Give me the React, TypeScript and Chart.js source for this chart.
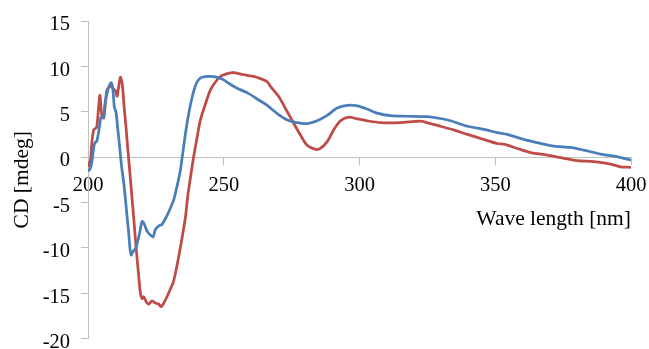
import { useEffect, useRef } from "react";
import { Chart, registerables } from "chart.js";

Chart.register(...registerables);

// Wavelength (nm) and CD (mdeg) — blue series
const blueNm = [
  200, 200.9, 201.5, 202.4, 203.3, 204.2, 204.8, 205.7, 206.3, 207.0, 207.6, 208.6, 209.2, 209.7,
  210.3, 210.9, 211.6, 212.4, 213.2, 213.8, 214.4, 215.0, 215.4, 215.9, 216.6, 217.5, 218.3, 219.0,
  219.9, 220.6, 221.8, 223.0, 224.0, 224.8, 226.0, 227.3, 228.5, 230.1, 231.6, 232.8, 234.0, 234.7,
  235.9, 237.1, 238.4, 239.6, 240.8, 242.0, 244.5, 246.9, 249.4, 252.5, 255.5, 258.6, 262.3, 266.0,
  269.7, 273.4, 277.0, 280.7, 284.4, 288.1, 291.8, 295.5, 299.2, 302.8, 306.5, 311.4, 317.6, 324.9,
  329.8, 333.5, 339.7, 345.8, 350.7, 354.4, 360.5, 366.7, 371.6, 377.7, 382.6, 388.8, 395.0, 400,
];
const blueCd = [
  -1.6, -1.2, -0.4, 1.5, 1.8, 3.3, 4.4, 4.4, 6.0, 7.0, 7.7, 8.2, 7.4, 5.5,
  5.0, 3.3, 1.3, -1.1, -2.9, -4.7, -6.6, -8.4, -9.9, -10.8, -10.4, -10.1, -9.3, -8.4,
  -7.1, -7.3, -8.2, -8.6, -8.8, -8.0, -7.6, -7.4, -6.8, -5.8, -4.7, -3.2, -1.5, 0.0,
  2.6, 4.8, 6.65, 7.9, 8.55, 8.8, 8.9, 8.85, 8.6, 8.0, 7.5, 7.1, 6.4, 5.7,
  4.8, 4.1, 3.8, 3.7, 4.0, 4.6, 5.4, 5.7, 5.65, 5.3, 4.85, 4.56, 4.5, 4.45,
  4.25, 4.0, 3.4, 3.05, 2.7, 2.5, 1.95, 1.5, 1.2, 1.07, 0.77, 0.33, 0.03, -0.33,
];

// Red series
const redNm = [
  200, 200.9, 201.4, 202.1, 203.2, 203.9, 204.4, 205.0, 205.8, 206.4, 207.0, 208.3, 209.1, 210.3,
  210.7, 211.3, 211.9, 212.6, 213.2, 214.0, 214.6, 215.5, 216.8, 217.8, 218.7, 219.3, 219.9, 220.5,
  221.5, 222.4, 223.6, 224.8, 226.0, 226.9, 227.9, 229.1, 230.4, 231.3, 232.2, 233.4, 234.7, 235.9,
  236.7, 237.7, 238.9, 240.2, 241.4, 243.3, 245.1, 247.0, 248.8, 251.3, 253.7, 256.2, 258.6, 261.0,
  263.5, 266.0, 267.3, 270.3, 273.4, 275.8, 278.3, 280.7, 283.8, 285.6, 288.1, 290.5, 293.0, 296.1,
  299.2, 302.8, 307.7, 315.1, 322.5, 324.9, 329.8, 334.7, 339.7, 344.6, 350.7, 353.2, 358.1, 363.0,
  369.2, 374.1, 380.2, 386.3, 392.5, 396.2, 400,
];
const redCd = [
  -1.1, -0.3, 1.5, 3.0, 3.3, 5.5, 6.8, 4.8, 4.3, 5.9, 7.4, 7.8, 7.6, 7.2,
  6.7, 7.75, 8.8, 8.1, 5.9, 3.3, 1.1, -2.0, -6.6, -10.25, -13.2, -15.0, -15.6, -15.4,
  -16.0, -16.2, -15.85, -16.1, -16.2, -16.5, -16.1, -15.4, -14.5, -13.9, -12.8, -11.0, -8.8, -6.6,
  -4.4, -2.3, 0.0, 2.2, 4.1, 5.9, 7.4, 8.3, 8.9, 9.2, 9.3, 9.15, 9.0, 8.9,
  8.65, 8.3, 7.75, 6.65, 5.0, 3.7, 2.4, 1.3, 0.85, 0.95, 1.7, 3.0, 4.0, 4.4,
  4.2, 4.0, 3.8, 3.8, 3.95, 3.8, 3.4, 3.0, 2.5, 2.05, 1.5, 1.43, 0.95, 0.5,
  0.22, -0.07, -0.4, -0.5, -0.77, -1.07, -1.13,
];

const xMin = 200;
const xMax = 400;
const xStep = 50;
const yMin = -20;
const yMax = 15;
const yStep = 5;
const xTitle = "Wave length [nm]";
const yTitle = "CD [mdeg]";

const AXIS = "#c0c0c0";
const FONT = "'Liberation Serif', 'Times New Roman', serif";

export default function App() {
  const ref = useRef<HTMLCanvasElement>(null);
  useEffect(() => {
    if (!ref.current) return;
    const chart = new Chart(ref.current, {
      type: "line",
      data: {
        datasets: [
          {
            data: blueNm.map((x, i) => ({ x, y: blueCd[i] })),
            borderColor: "#4A7EBB",
            borderWidth: 2.75,
            pointRadius: 0,
            tension: 0.25,
            fill: false,
          },
          {
            data: redNm.map((x, i) => ({ x, y: redCd[i] })),
            borderColor: "#BE4B48",
            borderWidth: 2.75,
            pointRadius: 0,
            tension: 0.25,
            fill: false,
          },
        ],
      },
      options: {
        animation: false,
        responsive: false,
        maintainAspectRatio: false,
        layout: { padding: { top: 21, bottom: 10.5, left: 0, right: 18 } },
        plugins: { legend: { display: false }, tooltip: { enabled: false } },
        scales: {
          x: {
            type: "linear",
            position: { y: 0 } as any,
            min: xMin,
            max: xMax,
            ticks: {
              stepSize: xStep,
              color: "#000",
              padding: 9.5,
              maxRotation: 0,
              font: { family: FONT, size: 20.5 },
            },
            grid: { drawOnChartArea: false, drawTicks: true, tickLength: 7, color: AXIS },
            border: { color: AXIS, width: 1 },
            title: {
              display: true,
              text: xTitle,
              align: "end",
              color: "#000",
              font: { family: FONT, size: 21.5 },
              padding: { top: -1, bottom: 0 },
            },
            afterFit: (s: any) => {
              s.paddingLeft = 0;
              s.paddingRight = 0;
            },
          },
          y: {
            type: "linear",
            min: yMin,
            max: yMax,
            ticks: {
              stepSize: yStep,
              color: "#000",
              padding: 11,
              labelOffset: 4,
              font: { family: FONT, size: 20.5 },
            },
            grid: { drawOnChartArea: false, drawTicks: true, tickLength: 7, color: AXIS },
            border: { color: AXIS, width: 1 },
            title: {
              display: true,
              text: yTitle,
              color: "#000",
              font: { family: FONT, size: 21.5 },
              padding: { top: 9.5, bottom: 0 },
            },
            afterFit: (s: any) => {
              s.width = 88;
              s.paddingTop = 0;
              s.paddingBottom = 0;
            },
          },
        },
      },
    });
    return () => chart.destroy();
  }, []);
  return (
    <div style={{ position: "fixed", left: 0, top: 0, width: 649, height: 349, background: "#fff" }}>
      <canvas ref={ref} width={649} height={349} style={{ display: "block" }} />
    </div>
  );
}
